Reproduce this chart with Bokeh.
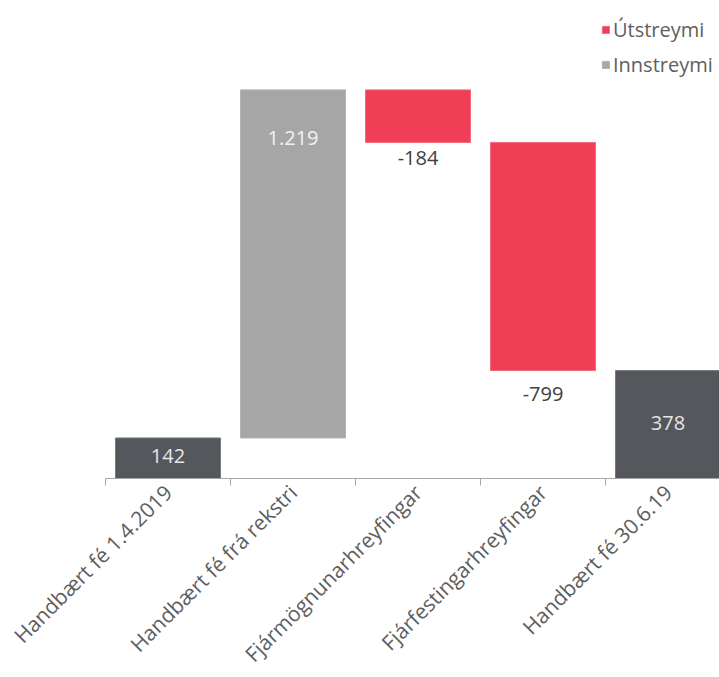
import math
from bokeh.plotting import figure
from bokeh.models import ColumnDataSource, FixedTicker, Legend, LegendItem
from bokeh.embed import file_html
from bokeh.resources import INLINE
from bokeh.core.properties import value

# ---- data ----
categories = ["Handbært fé 1.4.2019", "Handbært fé frá rekstri",
              "Fjármögnunarhreyfingar", "Fjárfestingarhreyfingar", "Handbært fé 30.6.19"]
changes = [142, 1219, -184, -799, 378]
kinds = ["total", "in", "out", "out", "total"]
value_labels = ["142", "1.219", "-184", "-799", "378"]
legend_labels = ["Útstreymi", "Innstreymi"]

# ---- waterfall geometry from data ----
xs = list(range(len(categories)))
bottoms, tops = [], []
running = 0
for c, k in zip(changes, kinds):
    if k == "total":
        b, t = 0, c
        running = c
    else:
        b, t = running, running + c
        running += c
    bottoms.append(min(b, t))
    tops.append(max(b, t))

colors = {"total": "#54575b", "in": "#a6a6a6", "out": "#ef3e55"}
outlines = {"total": "#76797c", "in": "#b4b4b4", "out": "#f06a7b"}

def src(kind):
    idx = [i for i, k in enumerate(kinds) if k == kind]
    return ColumnDataSource(dict(x=[xs[i] for i in idx],
                                 bottom=[bottoms[i] for i in idx],
                                 top=[tops[i] for i in idx]))

FONT = value("Open Sans")
TXT = "#5e5e5e"

p = figure(frame_width=614, frame_height=470, x_range=(-0.5, 4.412), y_range=(0, 1646),
           output_backend="svg", toolbar_location=None,
           min_border_left=105, min_border_right=0, min_border_top=8)
p.outline_line_color = None
p.xgrid.visible = False
p.ygrid.visible = False
p.yaxis.visible = False

rend = {}
for k in ["total", "in", "out"]:
    rend[k] = p.vbar(x="x", bottom="bottom", top="top", width=0.84, source=src(k),
                     fill_color=colors[k], line_color=outlines[k], line_width=1)

# value labels
lab_y, lab_off, lab_col = [], [], []
for i, k in enumerate(kinds):
    if k == "total":
        lab_y.append((bottoms[i] + tops[i]) / 2); lab_off.append(-2); lab_col.append("#e6e6e6")
    elif k == "in":
        lab_y.append(tops[i]); lab_off.append(48); lab_col.append("#f2f2f2")
    else:
        lab_y.append(bottoms[i]); lab_off.append(16 if i == 2 else 23); lab_col.append("#404040")
lsrc = ColumnDataSource(dict(x=xs, y=lab_y, text=value_labels, off=lab_off, col=lab_col))
p.text(x="x", y="y", text="text", source=lsrc, y_offset="off", text_color="col",
       text_align="center", text_baseline="middle", text_font=FONT, text_font_size="20px")

# x axis
ax = p.xaxis[0]
ax.ticker = FixedTicker(ticks=xs, minor_ticks=[x - 0.5 for x in xs] + [xs[-1] + 0.5])
ax.major_label_overrides = {i: c for i, c in enumerate(categories)}
ax.major_tick_line_color = None
ax.major_tick_in = 0
ax.major_tick_out = 0
ax.minor_tick_in = 0
ax.minor_tick_out = 7
ax.minor_tick_line_color = "#a6a6a6"
ax.axis_line_color = "#a6a6a6"
ax.major_label_orientation = math.pi / 4
ax.major_label_text_font = "Open Sans"
ax.major_label_text_font_size = "21px"
ax.major_label_text_color = TXT
ax.major_label_standoff = 3

legend = Legend(items=[LegendItem(label=legend_labels[0], renderers=[rend["out"]]),
                       LegendItem(label=legend_labels[1], renderers=[rend["in"]])],
                location=(496, 400), orientation="vertical",
                glyph_width=9, glyph_height=9, label_standoff=3, spacing=8,
                padding=0, margin=0, border_line_color=None, background_fill_alpha=0,
                label_text_font="Open Sans", label_text_font_size="20px", label_text_color=TXT)
p.add_layout(legend, "center")

open("out.html", "w").write(file_html(p, INLINE))
